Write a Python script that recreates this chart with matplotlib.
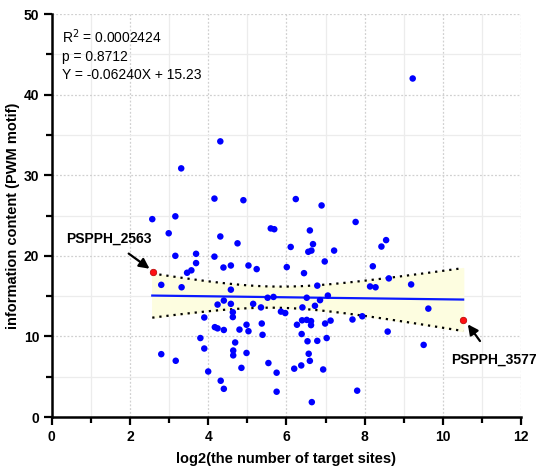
import numpy as np
import matplotlib
matplotlib.use("Agg")
import matplotlib.pyplot as plt
from matplotlib.ticker import MultipleLocator

plt.rcParams['font.family'] = ['Liberation Sans', 'DejaVu Sans']

# log2(number of target sites) vs information content
x_vals = [2.57, 2.80, 2.80, 2.99, 3.16, 3.16, 3.17, 3.31, 3.32, 3.46, 3.57, 3.69, 3.69,
          3.80, 3.90, 3.90, 4.00, 4.16, 4.16, 4.17, 4.24, 4.24, 4.31, 4.31, 4.32, 4.39,
          4.40, 4.40, 4.40, 4.58, 4.58, 4.58, 4.63, 4.63, 4.64, 4.64, 4.69, 4.75, 4.80,
          4.85, 4.90, 4.98, 4.98, 5.03, 5.03, 5.15, 5.24, 5.35, 5.37, 5.39, 5.52, 5.54,
          5.60, 5.67, 5.69, 5.75, 5.75, 5.86, 5.97, 6.01, 6.11, 6.20, 6.24, 6.27, 6.40,
          6.52, 6.63, 6.63, 6.39, 6.38, 6.41, 6.45, 6.52, 6.54, 6.56, 6.60, 6.57, 6.60,
          6.64, 6.65, 6.68, 6.73, 6.79, 6.79, 6.86, 6.90, 6.94, 6.98, 6.99, 7.03, 7.06,
          7.13, 7.22, 7.69, 7.77, 7.81, 7.94, 8.14, 8.21, 8.28, 8.43, 8.55, 8.59, 8.62,
          9.19, 9.23, 9.51, 9.63]
y_vals = [24.55, 16.4, 7.8, 22.8, 24.9, 20.0, 6.98, 30.85, 16.1, 17.9, 18.2, 20.25, 19.1,
          9.8, 12.35, 8.5, 5.65, 27.1, 19.9, 11.15, 13.95, 11.0, 34.2, 22.4, 4.5, 18.55,
          14.45, 10.8, 3.5, 18.8, 15.8, 14.04, 13.0, 12.4, 8.25, 7.65, 9.25, 21.55, 10.85,
          6.1, 26.9, 11.45, 7.95, 18.8, 10.65, 14.04, 18.35, 13.6, 11.6, 10.2, 14.8, 6.7,
          23.4, 14.9, 23.3, 5.5, 3.14, 13.08, 12.9, 18.6, 21.1, 6.0, 27.04, 11.45, 12.0,
          12.05, 11.9, 11.4, 10.3, 6.4, 13.6, 17.85, 14.8, 9.4, 20.5, 23.15, 7.85, 6.97,
          20.65, 1.85, 21.45, 13.8, 16.3, 9.45, 14.5, 26.25, 5.9, 19.3, 11.6, 9.8, 15.07,
          11.96, 20.65, 12.1, 24.2, 3.27, 12.5, 16.2, 18.7, 16.1, 21.15, 21.95, 10.6, 17.2,
          16.45, 42.0, 8.95, 13.45]

# highlighted genes
hl_names = ["PSPPH_2563", "PSPPH_3577"]
hl_x = [2.58, 10.52]
hl_y = [18.0, 12.05]

slope = -0.06240
intercept = 15.23
stats_text = "R$^2$ = 0.0002424\np = 0.8712\nY = -0.06240X + 15.23"

# confidence band (95%) around the fitted line
xa = np.array(x_vals + hl_x)
ya = np.array(y_vals + hl_y)
n = len(xa)
resid = ya - (slope * xa + intercept)
s = np.sqrt(np.sum(resid ** 2) / (n - 2))
xs = np.linspace(xa.min(), xa.max(), 100)
fit = slope * xs + intercept
se = s * np.sqrt(1.0 / n + (xs - xa.mean()) ** 2 / np.sum((xa - xa.mean()) ** 2))
upper = fit + 1.98 * se
lower = fit - 1.98 * se

fig = plt.figure(figsize=(5.45, 4.67), dpi=100)
ax = fig.add_axes([0.095, 0.107, 0.861, 0.863])

ax.fill_between(xs, lower, upper, color="#fdfde0", zorder=1)
ax.plot(xs, upper, color="black", linestyle=(0, (1, 2.2)), linewidth=1.6, zorder=2)
ax.plot(xs, lower, color="black", linestyle=(0, (1, 2.2)), linewidth=1.6, zorder=2)
ax.plot(xs, fit, color="#0a1aff", linewidth=1.6, zorder=3)

ax.scatter(x_vals, y_vals, s=22, color="#0000ff", edgecolors="none", zorder=4)
ax.scatter(hl_x, hl_y, s=22, color="#ff1010", edgecolors="#b00000", linewidths=0.5, zorder=5)

ax.annotate(hl_names[0], xy=(2.50, 18.4), xytext=(1.45, 22.1),
            ha="center", va="center", fontsize=10, fontweight="bold",
            arrowprops=dict(arrowstyle="-|>,head_length=0.6,head_width=0.3",
                            color="black", lw=1.6, shrinkB=0, shrinkA=6))
ax.annotate(hl_names[1], xy=(10.64, 11.5), xytext=(11.3, 7.1),
            ha="center", va="center", fontsize=10, fontweight="bold",
            arrowprops=dict(arrowstyle="-|>,head_length=0.6,head_width=0.3",
                            color="black", lw=1.6, shrinkB=0, shrinkA=8),
            annotation_clip=False)

ax.text(0.25, 48.3, stats_text, fontsize=10, va="top", ha="left", linespacing=1.35)

ax.set_xlim(0, 12)
ax.set_ylim(0, 50)
ax.xaxis.set_major_locator(MultipleLocator(2))
ax.xaxis.set_minor_locator(MultipleLocator(1))
ax.yaxis.set_major_locator(MultipleLocator(10))
ax.yaxis.set_minor_locator(MultipleLocator(5))

ax.grid(which="major", color="#d0d0d0", linestyle=(0, (1.5, 1.5)), linewidth=0.9)
ax.grid(which="minor", color="#ececec", linestyle="-", linewidth=0.9)
ax.set_axisbelow(True)

for side in ["top", "right"]:
    ax.spines[side].set_visible(False)
for side in ["left", "bottom"]:
    ax.spines[side].set_linewidth(1.8)
ax.tick_params(which="major", direction="out", length=6, width=1.6, labelsize=10, pad=3)
ax.tick_params(which="minor", direction="out", length=4, width=1.6)
for lab in ax.get_xticklabels() + ax.get_yticklabels():
    lab.set_fontweight("bold")

ax.set_xlabel("log2(the number of target sites)", fontsize=10.5, fontweight="bold")
ax.set_ylabel("information content (PWM motif)", fontsize=10.5, fontweight="bold")
ax.xaxis.set_label_coords(0.5, -0.088)
ax.yaxis.set_label_coords(-0.068, 0.5)

fig.savefig("out.png", dpi=100)
